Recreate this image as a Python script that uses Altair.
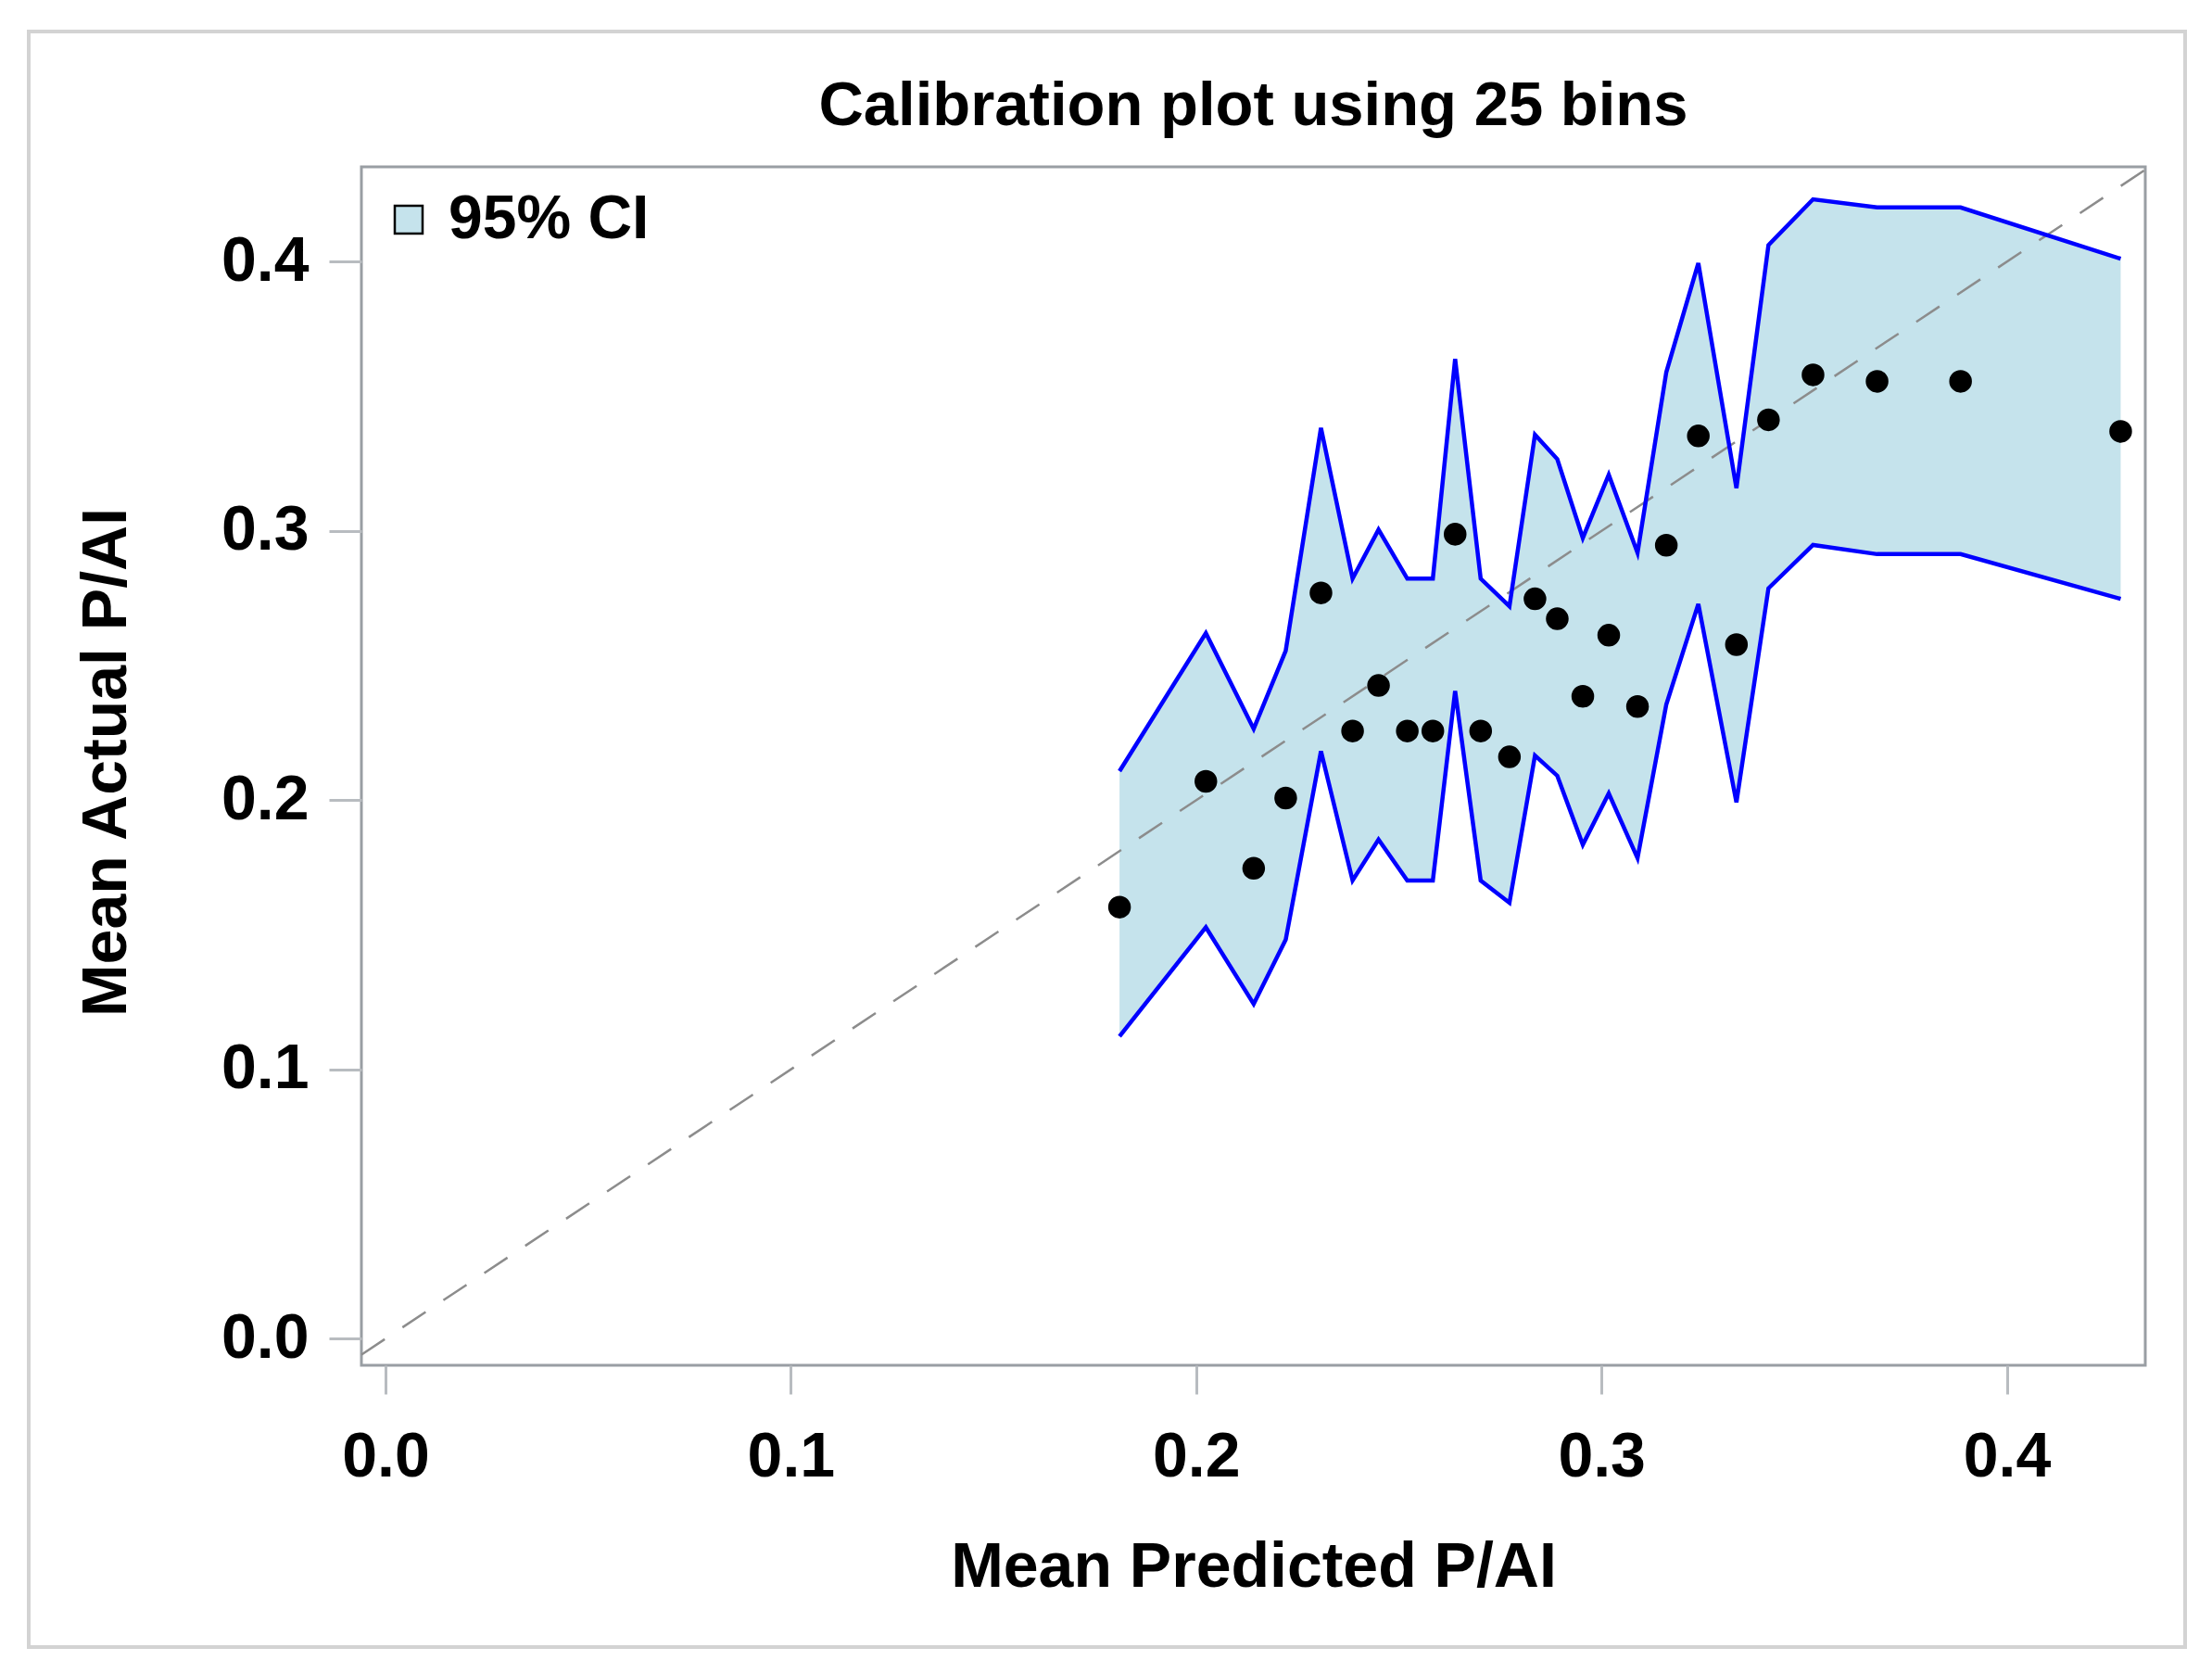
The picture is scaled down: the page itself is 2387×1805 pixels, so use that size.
import altair as alt
import pandas as pd

# ---- data ----
pred = [0.1811, 0.2024, 0.2142, 0.2221, 0.2308, 0.2386, 0.2450, 0.2521, 0.2584, 0.2639,
        0.2702, 0.2773, 0.2836, 0.2891, 0.2954, 0.3018, 0.3089, 0.3160, 0.3239, 0.3333,
        0.3412, 0.3522, 0.3680, 0.3886, 0.4281]
actual = [0.1603, 0.2070, 0.1747, 0.2008, 0.2770, 0.2257, 0.2426, 0.2257, 0.2257, 0.2988,
          0.2257, 0.2161, 0.2748, 0.2674, 0.2386, 0.2613, 0.2348, 0.2947, 0.3353, 0.2578,
          0.3413, 0.3580, 0.3556, 0.3556, 0.3370]
upper = [0.2108, 0.2621, 0.2265, 0.2555, 0.3383, 0.2823, 0.3005, 0.2823, 0.2823, 0.3639,
         0.2823, 0.2720, 0.3358, 0.3267, 0.2974, 0.3209, 0.2919, 0.3590, 0.3995, 0.3159,
         0.4062, 0.4232, 0.4202, 0.4202, 0.4011]
lower = [0.1123, 0.1528, 0.1243, 0.1482, 0.2182, 0.1702, 0.1854, 0.1702, 0.1702, 0.2406,
         0.1702, 0.1619, 0.2166, 0.2091, 0.1835, 0.2025, 0.1785, 0.2356, 0.2729, 0.1992,
         0.2787, 0.2948, 0.2914, 0.2914, 0.2748]
diag = [-0.0059, 0.4342]
x_ticks = [0.0, 0.1, 0.2, 0.3, 0.4]
y_ticks = [0.0, 0.1, 0.2, 0.3, 0.4]
band_label = "95% CI"
title_text = "Calibration plot using 25 bins"
x_title = "Mean Predicted P/AI"
y_title = "Mean Actual P/AI"

df = pd.DataFrame({"pred": pred, "actual": actual, "lower": lower,
                   "upper": upper, "band": band_label})
diag_df = pd.DataFrame({"x": diag, "y": diag})
one_row = pd.DataFrame({"k": [0]})

FONT = "Liberation Sans"
W, H = 1925, 1293
xs = alt.Scale(domain=[-0.00594, 0.43417], nice=False, zero=False)
ys = alt.Scale(domain=[-0.00988, 0.43526], nice=False, zero=False)

xaxis = alt.Axis(values=x_ticks, format=".1f", title=x_title, tickSize=31,
                 labelPadding=34, titleX=W / 2, titleY=238,
                 titleBaseline="alphabetic", titleAlign="center",
                 labelFlush=False, labelOverlap=False)
yaxis = alt.Axis(values=y_ticks, format=".1f", title=y_title, tickSize=35,
                 labelPadding=22, titleX=-255, titleY=642, titleAngle=270,
                 titleBaseline="alphabetic", titleAlign="center",
                 labelFlush=False, labelOverlap=False)

border = alt.Chart(one_row).mark_rect(
    fillOpacity=0, stroke="#D3D3D3", strokeWidth=4
).encode(
    x=alt.value(-359), x2=alt.value(1968), y=alt.value(-146), y2=alt.value(1597)
)

band = alt.Chart(df).mark_area(opacity=1).encode(
    x=alt.X("pred:Q", scale=xs, axis=xaxis),
    y=alt.Y("lower:Q", scale=ys, axis=yaxis),
    y2="upper:Q",
    color=alt.Color(
        "band:N",
        scale=alt.Scale(range=["#C5E3EC"]),
        legend=alt.Legend(
            title=None, orient="none", legendX=18, legendY=24,
            symbolType="square", symbolSize=900, symbolStrokeColor="black",
            symbolStrokeWidth=2.5, symbolOpacity=1, labelFont=FONT,
            labelFontSize=66, labelFontWeight="bold", labelColor="black",
            labelOffset=10, labelLimit=0, padding=0,
        ),
    ),
)

diag_line = alt.Chart(diag_df).mark_line(
    color="#8C8C8C", strokeWidth=2.5, strokeDash=[30, 23]
).encode(
    x=alt.X("x:Q", title=x_title),
    y=alt.Y("y:Q", title=y_title),
)

bounds = alt.Chart(df).transform_fold(
    ["lower", "upper"], as_=["bound", "val"]
).mark_line(color="#0000FF", strokeWidth=4.5).encode(
    x=alt.X("pred:Q", title=x_title),
    y=alt.Y("val:Q", title=y_title),
    detail="bound:N",
)

points = alt.Chart(df).mark_circle(size=600, color="black", opacity=1).encode(
    x=alt.X("pred:Q", title=x_title),
    y=alt.Y("actual:Q", title=y_title),
)

chart = alt.layer(border, band, diag_line, bounds, points).properties(
    width=W, height=H,
    title=alt.TitleParams(title_text, font=FONT, fontSize=67, fontWeight="bold",
                          color="black", anchor="middle", frame="group", offset=0,
                          dy=117),
    autosize=alt.AutoSizeParams(type="none"),
    padding={"left": 382, "top": 172, "right": 50, "bottom": 320},
    background="white",
).configure_view(
    stroke="#999EA3", strokeWidth=3
).configure_axis(
    labelFont=FONT, labelFontSize=68, labelFontWeight="bold", labelColor="black",
    titleFont=FONT, titleFontSize=68, titleFontWeight="bold", titleColor="black",
    tickColor="#B8BCC0", tickWidth=3, domain=False, grid=False,
)

chart.save("out.html", embed_options={"renderer": "svg", "actions": False})
